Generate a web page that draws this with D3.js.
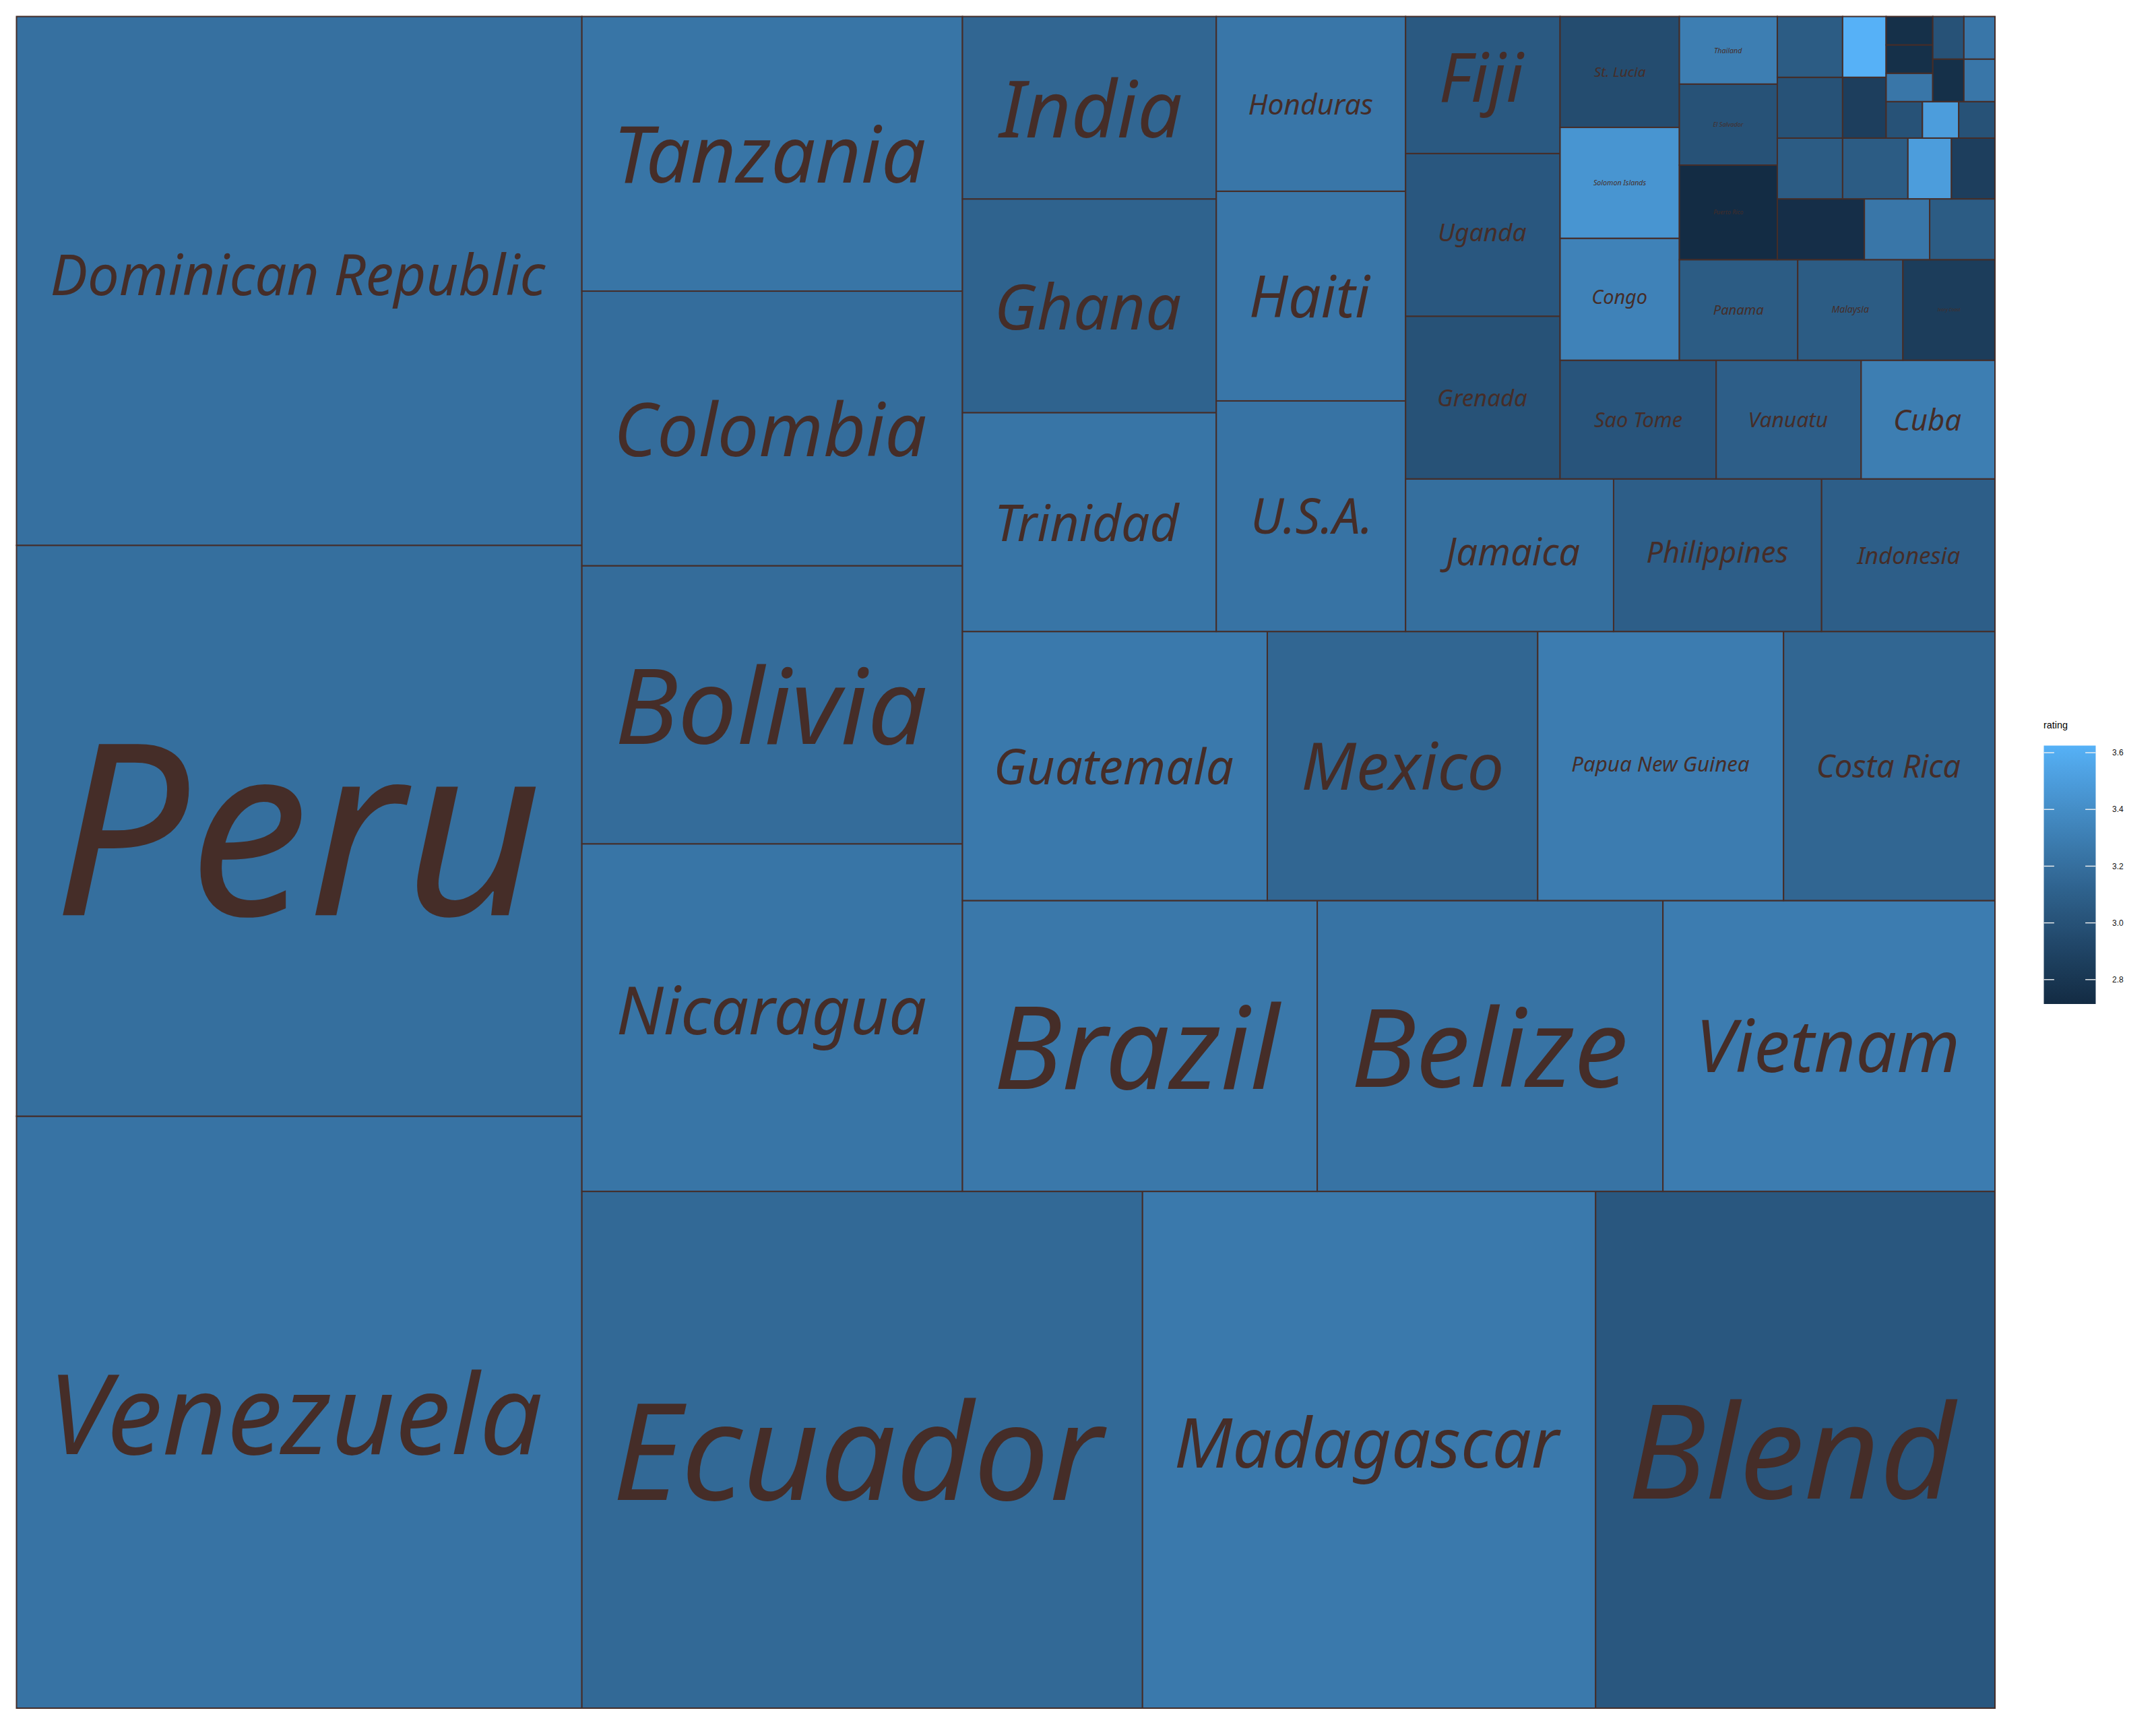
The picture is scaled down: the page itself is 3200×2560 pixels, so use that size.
<!DOCTYPE html>
<html><head><meta charset="utf-8">
<script src="https://cdnjs.cloudflare.com/ajax/libs/d3/7.8.5/d3.min.js"></script>
<style>html,body{margin:0;padding:0;background:#fff}svg{display:block}</style>
</head><body><svg id="c" width="3200" height="2560"></svg>
<script>
const countries = ["Venezuela","Peru","Dominican Republic","Ecuador","Madagascar","Blend","Nicaragua","Bolivia","Colombia","Tanzania","Brazil","Belize","Vietnam","Guatemala","Mexico","Papua New Guinea","Costa Rica","Trinidad","Ghana","India","U.S.A.","Haiti","Honduras","Jamaica","Philippines","Indonesia","Grenada","Uganda","Fiji","Sao Tome","Vanuatu","Cuba","Congo","Solomon Islands","St. Lucia","Panama","Malaysia","Ivory Coast","Puerto Rico","El Salvador","Thailand",
"","","","","","","","","","","","","","","","","","","","","","",""];
const counts = [253,244,226,219,177,156,100,80,79,79,78,76,73,62,55,50,43,42,41,35,33,30,25,24,24,20,19,19,16,14,13,12,11,10,10,9,8,7,7,6,5,
4,3,3,3,3,3,3,2,2,2,2,1,1,1,1,1,1,1,1,1,1];
const ratings = [3.23,3.20,3.21,3.16,3.27,3.04,3.24,3.18,3.19,3.24,3.26,3.23,3.29,3.27,3.14,3.29,3.14,3.24,3.12,3.14,3.23,3.25,3.25,3.20,3.09,3.09,3.00,3.04,3.05,3.02,3.09,3.30,3.33,3.45,2.96,3.07,3.07,2.85,2.72,3.00,3.30,
2.74,3.25,3.07, 3.07,3.00,3.07, 3.07,3.50,2.86, 2.86,3.625, 3.00,3.50,3.00, 3.25,2.75,2.75, 2.75,3.25, 3.00,3.25];
const legendTicks = [2.8,3.0,3.2,3.4,3.6];
const legendTitle = "rating";
const ratingDomain = [2.714,3.625];

// share of each tile's width that its label occupies
const labelFill = [.854,.837,.873,.873,.848,.814,.805,.805,.805,.80,.80,.78,.765,.773,.73,.72,.67,.713,.715,.72,.60,.63,.652,.67,.675,.595,.57,.56,.536,.56,.533,.49,.45,.44,.43,.42,.35,.25,.30,.31,.28];

const plot = {x:24.5,y:24.5,w:2936.5,h:2510.5};
const lineCol = "#452d28";
const svg = d3.select("#c");
const fill = d3.scaleLinear().domain(ratingDomain).range(["#132B43","#56B1F7"]).interpolate(d3.interpolateLab);

const rows = counts.map((n,i)=>({name:countries[i],n,rating:ratings[i],fit:labelFill[i]}));
const root = d3.hierarchy({children:rows}).sum(d=>d.n||0);
// layout happens on a unit square, then stretches to the plot panel
d3.treemap().tile(d3.treemapSquarify.ratio(1)).size([1000,1000]).round(false)(root);

const flipY = d3.scaleLinear().domain([0,1000]).range([plot.y+plot.h,plot.y]);
const shiftX = d3.scaleLinear().domain([0,1000]).range([plot.x,plot.x+plot.w]);

const g = svg.append("g");
g.selectAll("rect").data(root.leaves()).join("rect")
 .attr("x",d=>shiftX(d.x0)).attr("width",d=>shiftX(d.x1)-shiftX(d.x0))
 .attr("y",d=>flipY(d.y1)).attr("height",d=>flipY(d.y0)-flipY(d.y1))
 .attr("fill",d=>fill(d.data.rating)).attr("stroke",lineCol).attr("stroke-width",2);

const fontFam = '"Noto Sans"';
const ctx = document.createElement("canvas").getContext("2d");
ctx.font = `italic 200px ${fontFam}`;
const labelled = root.leaves().filter(d=>d.data.name);
g.selectAll("text").data(labelled).join("text")
 .text(d=>d.data.name)
 .attr("fill",lineCol)
 .attr("font-family",fontFam).attr("font-style","italic")
 .each(function(d){
   const m = ctx.measureText(d.data.name);
   const inkW = m.actualBoundingBoxLeft+m.actualBoundingBoxRight;
   const bw = shiftX(d.x1)-shiftX(d.x0);
   const k = bw*d.data.fit/inkW;
   const cx = (shiftX(d.x0)+shiftX(d.x1))/2, cy=(flipY(d.y0)+flipY(d.y1))/2;
   d3.select(this).attr("font-size",200*k)
     .attr("x",cx-k*(m.actualBoundingBoxRight-m.actualBoundingBoxLeft)/2)
     .attr("y",cy+k*(m.actualBoundingBoxAscent-m.actualBoundingBoxDescent)/2);
 });

// legend
const bar = {x:3033.5,w:77,y0:1490,y1:1106.5};
const ly = d3.scaleLinear().domain(ratingDomain).range([bar.y0,bar.y1]);
const defs = svg.append("defs");
const grad = defs.append("linearGradient").attr("id","lg").attr("x1",0).attr("x2",0).attr("y1",1).attr("y2",0);
d3.range(0,1.0001,0.05).forEach(t=>grad.append("stop").attr("offset",t).attr("stop-color",fill(ratingDomain[0]+t*(ratingDomain[1]-ratingDomain[0]))));
const lg = svg.append("g");
lg.append("rect").attr("x",bar.x).attr("y",bar.y1).attr("width",bar.w).attr("height",bar.y0-bar.y1).attr("fill","url(#lg)");
lg.selectAll("line.a").data(legendTicks).join("line").attr("x1",bar.x).attr("x2",bar.x+15.4).attr("y1",d=>ly(d)).attr("y2",d=>ly(d)).attr("stroke","#f2f2f2").attr("stroke-width",1.4);
lg.selectAll("line.b").data(legendTicks).join("line").attr("x1",bar.x+bar.w-15.4).attr("x2",bar.x+bar.w).attr("y1",d=>ly(d)).attr("y2",d=>ly(d)).attr("stroke","#f2f2f2").attr("stroke-width",1.4);
lg.selectAll("text.t").data(legendTicks).join("text").attr("x",3135).attr("y",d=>ly(d)+4.2)
  .attr("font-family","Liberation Sans").attr("font-size",12).attr("fill","#111").text(d=>d.toFixed(1));
lg.append("text").attr("x",3033).attr("y",1081).attr("font-family","Liberation Sans").attr("font-size",14.4).attr("fill","#000").text(legendTitle);
</script></body></html>
